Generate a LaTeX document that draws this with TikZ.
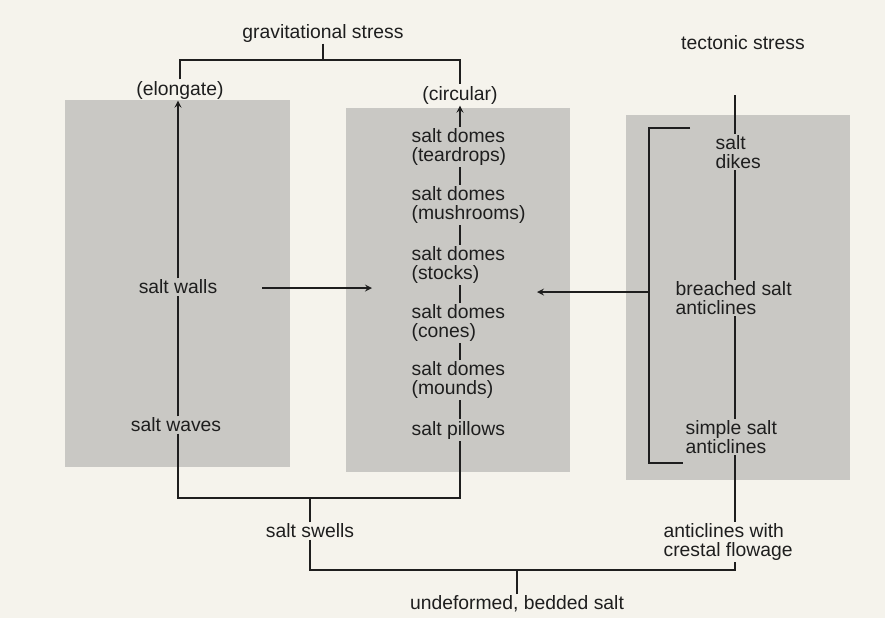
\documentclass[tikz,border=0pt]{standalone}
\usepackage{fontspec}
\setmainfont{Liberation Sans}
\usetikzlibrary{positioning,arrows}

\definecolor{paper}{RGB}{245,243,236}
\definecolor{panelgray}{RGB}{201,200,196}
\definecolor{ink}{RGB}{30,30,30}

\tikzset{
  panel/.style={fill=panelgray, draw=none},
  stage/.style={align=left, inner sep=1pt, text=ink, font=\fontsize{14.5}{14.5}\selectfont},
  link/.style={draw=ink, line width=1.3pt},
}

\begin{document}
\begin{tikzpicture}[x=0.75pt,y=-0.75pt,>=stealth]

\fill[paper] (0,0) rectangle (885,618);
\useasboundingbox (0,0) rectangle (885,618);

% the three panels
\fill[panel] (65,100) rectangle (290,467);
\fill[panel] (346,108) rectangle (570,472);
\fill[panel] (626,115) rectangle (850,480);

% gravitational side
\node[stage] (gs) at (323,33) {gravitational stress};
\node[stage] (elong) at (180,90) {(elongate)};
\node[stage] (circ) at (460,95) {(circular)};

\node[stage] (walls) at (178,287) {salt walls};
\node[stage] (waves) at (176,425) {salt waves};

\node[stage,anchor=west] (tear) at (410,147) {salt domes\\(teardrops)};
\node[stage,anchor=west] (mush) at (410,205) {salt domes\\(mushrooms)};
\node[stage,anchor=west] (stocks) at (410,265) {salt domes\\(stocks)};
\node[stage,anchor=west] (cones) at (410,323) {salt domes\\(cones)};
\node[stage,anchor=west] (mounds) at (410,380) {salt domes\\(mounds)};
\node[stage,anchor=west] (pillows) at (410,430) {salt pillows};

\node[stage] (swells) at (310,531) {salt swells};
\node[stage] (undef) at (517,604) {undeformed, bedded salt};

% tectonic side
\node[stage] (ts) at (743,43) {tectonic stress};
\node[stage,anchor=west] (dikes) at (714,152) {salt\\dikes};
\node[stage,anchor=west] (breached) at (674,298) {breached salt\\anticlines};
\node[stage,anchor=west] (simple) at (684,437) {simple salt\\anticlines};
\node[stage,anchor=west] (crestal) at (662,542) {anticlines with\\crestal flowage};

\coordinate (tsend) at (735,95);
\coordinate (brtop) at (690,128);
\coordinate (brbot) at (683,463);
\coordinate (brmid) at (649,292);
\coordinate (stocksin) at (537,292);
\coordinate (wallsout) at (262,288);
\coordinate (wallsin) at (372,288);

% top bracket
\draw[link] (gs.south) -- (323,60);
\draw[link] (elong.north) |- (323,60) -| (circ.north);

% left column
\draw[link] (waves.north -| walls) -- (walls.south);
\draw[link,->] (walls.north) -- (walls |- elong.south);
\draw[link,->] (wallsout) -- (wallsin);

% middle column
\draw[link,->] (circ |- tear.north) -- (circ.south);
\draw[link] (circ |- tear.south) -- (circ |- mush.north);
\draw[link] (circ |- mush.south) -- (circ |- stocks.north);
\draw[link] (circ |- stocks.south) -- (circ |- cones.north);
\draw[link] (circ |- cones.south) -- (circ |- mounds.north);
\draw[link] (circ |- mounds.south) -- (circ |- pillows.north);

% bottom brackets
\draw[link] (waves.south -| walls) |- (310,498) -| (circ |- pillows.south);
\draw[link] (swells.north) -- (310,498);
\draw[link] (swells.south) |- (517,570) -| (tsend |- crestal.south);
\draw[link] (undef.north) -- (517,570);

% right column
\draw[link] (tsend) -- (tsend |- dikes.north);
\draw[link] (tsend |- dikes.south) -- (tsend |- breached.north);
\draw[link] (tsend |- breached.south) -- (tsend |- simple.north);
\draw[link] (tsend |- simple.south) -- (tsend |- crestal.north);
\draw[link] (brtop) -| (649,463) -- (brbot);
\draw[link,->] (brmid) -- (stocksin);

\end{tikzpicture}
\end{document}
